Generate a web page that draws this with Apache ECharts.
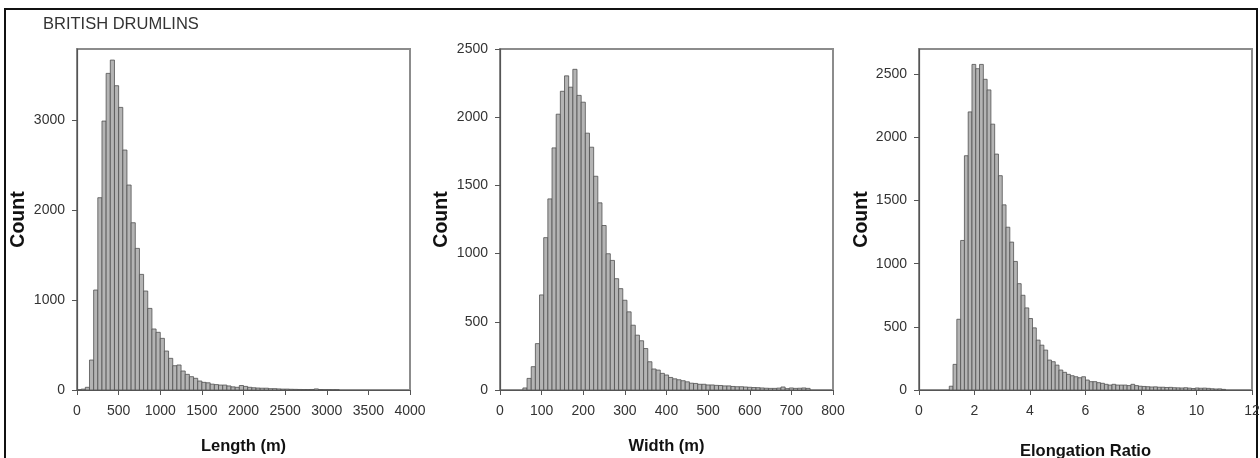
<!DOCTYPE html>
<html>
<head>
<meta charset="utf-8">
<title>British drumlins</title>
<script src="https://cdn.jsdelivr.net/npm/echarts@6/dist/echarts.min.js"></script>
<style>
  html, body { margin: 0; padding: 0; background: #fff; }
  #chart { width: 1260px; height: 458px; }
</style>
</head>
<body>
<div id="chart"></div>
<script>
// Length (m): 50 m bins starting at 0
const lengthBinStart = 0
const lengthBinWidth = 50
const lengthCounts = [0, 10, 30, 333, 1111, 2137, 2989, 3519, 3667, 3382, 3141, 2667, 2278, 1859, 1574, 1285,
  1100, 907, 678, 641, 574, 433, 352, 270, 278, 211, 174, 148, 130, 100, 85, 80, 65, 60, 55, 55, 45, 35, 30,
  50, 40, 30, 25, 22, 20, 20, 15, 15, 12, 10, 10, 8, 7, 6, 5, 5, 6, 12, 5, 3, 3, 2, 2]
const lengthXTicks = [0, 500, 1000, 1500, 2000, 2500, 3000, 3500, 4000]
const lengthYTicks = [0, 1000, 2000, 3000]

// Width (m): 10 m bins starting at 55
const widthBinStart = 55
const widthBinWidth = 10
const widthCounts = [15, 85, 171, 340, 697, 1117, 1401, 1775, 2022, 2190, 2303, 2220, 2351, 2160, 2110, 1883,
  1780, 1567, 1372, 1206, 999, 950, 816, 743, 658, 573, 475, 402, 361, 304, 207, 154, 146, 122, 110, 92, 82,
  75, 68, 60, 50, 48, 42, 42, 37, 37, 34, 33, 30, 30, 26, 24, 24, 22, 20, 18, 17, 15, 13, 12, 12, 14, 22, 10,
  15, 12, 13, 15, 12]
const widthXTicks = [0, 100, 200, 300, 400, 500, 600, 700, 800]
const widthYTicks = [0, 500, 1000, 1500, 2000, 2500]

// Elongation ratio: 88 bins over 0-12, first non-empty bin is the 9th
const elongBinStart = 8 * 12 / 88
const elongBinWidth = 12 / 88
const elongCounts = [30, 203, 560, 1184, 1855, 2202, 2578, 2544, 2578, 2460, 2376, 2105, 1868, 1697, 1466, 1289,
  1171, 1018, 842, 750, 650, 566, 492, 395, 355, 316, 237, 224, 197, 158, 140, 124, 113, 105, 97, 105, 79, 66,
  66, 58, 53, 45, 39, 45, 39, 39, 39, 35, 45, 35, 30, 28, 26, 24, 25, 22, 22, 20, 21, 18, 17, 16, 18, 15, 12,
  16, 14, 15, 13, 10, 8, 9, 5]
const elongXTicks = [0, 2, 4, 6, 8, 10, 12]
const elongYTicks = [0, 500, 1000, 1500, 2000, 2500]

const FONT = 'Liberation Sans, Arial, sans-serif'

const toBins = (start, width, counts) =>
  counts.map((c, i) => [start + i * width, start + (i + 1) * width, c])

const renderBar = (params, api) => {
  const top = api.coord([api.value(0), api.value(2)])
  const base = api.coord([api.value(1), 0])
  return {
    type: 'rect',
    shape: { x: top[0], y: top[1], width: base[0] - top[0], height: base[1] - top[1] },
    style: { fill: '#b4b4b4', stroke: '#505050', lineWidth: 0.8 }
  }
}

const panels = [
  { left: 77, xName: 'Length (m)', xMax: 4000, xTicks: lengthXTicks, yMax: 3790, yTicks: lengthYTicks,
    yGap: 48, xGap: 48, data: toBins(lengthBinStart, lengthBinWidth, lengthCounts) },
  { left: 500, xName: 'Width (m)', xMax: 800, xTicks: widthXTicks, yMax: 2500, yTicks: widthYTicks,
    yGap: 48, xGap: 48, data: toBins(widthBinStart, widthBinWidth, widthCounts) },
  { left: 919, xName: 'Elongation Ratio', xMax: 12, xTicks: elongXTicks, yMax: 2700, yTicks: elongYTicks,
    yGap: 45, xGap: 53, data: toBins(elongBinStart, elongBinWidth, elongCounts) }
]

const axisLine = { show: true, lineStyle: { color: '#555', width: 1.2 } }
const tickStyle = { lineStyle: { color: '#555', width: 1 } }
const labelStyle = { color: '#333', fontSize: 14, fontFamily: FONT, formatter: v => String(v) }
const nameStyle = { color: '#111', fontWeight: 'bold', fontFamily: FONT }

const chart = echarts.init(document.getElementById('chart'), null, { renderer: 'canvas' })

chart.setOption({
  animation: false,
  backgroundColor: '#fff',
  title: {
    text: 'BRITISH DRUMLINS',
    left: 38,
    top: 11,
    textStyle: { color: '#333', fontSize: 16.5, fontWeight: 'normal', fontFamily: FONT }
  },
  graphic: [{
    type: 'rect',
    shape: { x: 5, y: 9, width: 1252, height: 470 },
    style: { fill: 'none', stroke: '#111', lineWidth: 2 },
    silent: true
  }],
  grid: panels.map(p => ({
    left: p.left, top: 49, width: 333, height: 341,
    outerBoundsMode: 'none',
    containLabel: false,
    show: true, borderColor: '#8c8c8c', borderWidth: 2
  })),
  xAxis: panels.map((p, i) => ({
    type: 'value',
    gridIndex: i,
    min: 0,
    max: p.xMax,
    interval: p.xTicks[1],
    name: p.xName,
    nameLocation: 'middle',
    nameGap: p.xGap,
    nameTextStyle: { ...nameStyle, fontSize: 16.5 },
    axisLine,
    axisTick: { show: true, length: 5, customValues: p.xTicks, ...tickStyle },
    axisLabel: { ...labelStyle, margin: 14, customValues: p.xTicks },
    splitLine: { show: false }
  })),
  yAxis: panels.map((p, i) => ({
    type: 'value',
    gridIndex: i,
    min: 0,
    max: p.yMax,
    interval: p.yTicks[1],
    name: 'Count',
    nameLocation: 'middle',
    nameRotate: 90,
    nameGap: p.yGap,
    nameTextStyle: { ...nameStyle, fontSize: 19.5 },
    axisLine,
    axisTick: { show: true, length: 5, customValues: p.yTicks, ...tickStyle },
    axisLabel: { ...labelStyle, margin: 12, customValues: p.yTicks },
    splitLine: { show: false }
  })),
  series: panels.map((p, i) => ({
    type: 'custom',
    xAxisIndex: i,
    yAxisIndex: i,
    renderItem: renderBar,
    encode: { x: [0, 1], y: 2 },
    data: p.data
  }))
})
</script>
</body>
</html>
